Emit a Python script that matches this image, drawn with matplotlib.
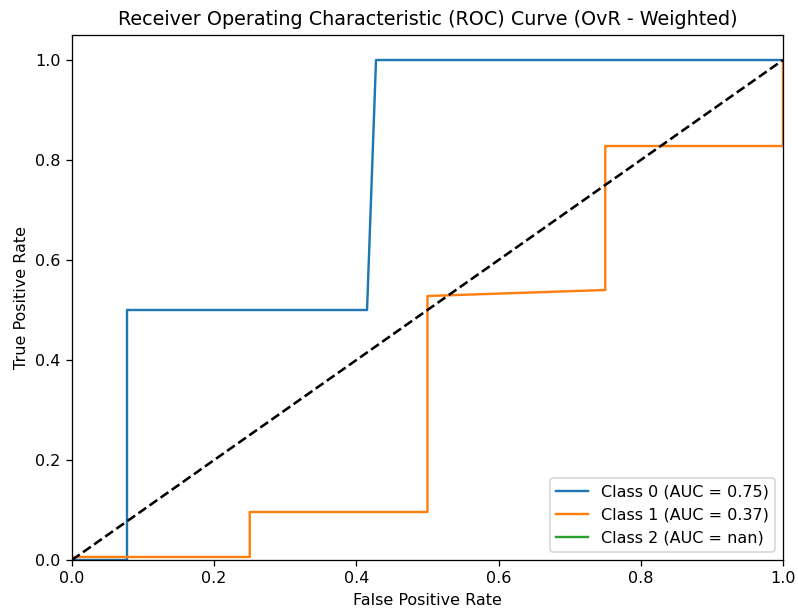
import numpy as np
import matplotlib
matplotlib.use("Agg")
import matplotlib.pyplot as plt

fpr0 = [0.0, 0.0774, 0.0774, 0.415, 0.4276, 1.0]
tpr0 = [0.0, 0.0, 0.5, 0.5, 1.0, 1.0]
fpr1 = [0.0, 0.25, 0.25, 0.5, 0.5, 0.75, 0.75, 1.0, 1.0]
tpr1 = [0.006, 0.006, 0.096, 0.096, 0.528, 0.54, 0.828, 0.828, 1.0]
fpr2 = [np.nan, np.nan]
tpr2 = [np.nan, np.nan]
labels = ["Class 0 (AUC = 0.75)", "Class 1 (AUC = 0.37)", "Class 2 (AUC = nan)"]

DPI = 115
fig = plt.figure(figsize=(798 / DPI, 610 / DPI), dpi=DPI)
ax = fig.add_axes([0.0902, 0.082, 0.8910, 0.8606])
ax.plot(fpr0, tpr0, color="#1f77b4", label=labels[0])
ax.plot(fpr1, tpr1, color="#ff7f0e", label=labels[1])
ax.plot(fpr2, tpr2, color="#2ca02c", label=labels[2])
ax.plot([0, 1], [0, 1], "k--", lw=1.6)
ax.set_xlim(0.0, 1.0)
ax.set_ylim(0.0, 1.05)
ax.set_xlabel("False Positive Rate")
ax.set_ylabel("True Positive Rate")
ax.set_title("Receiver Operating Characteristic (ROC) Curve (OvR - Weighted)")
ax.legend(loc="lower right")
fig.savefig("out.png", dpi=DPI)
